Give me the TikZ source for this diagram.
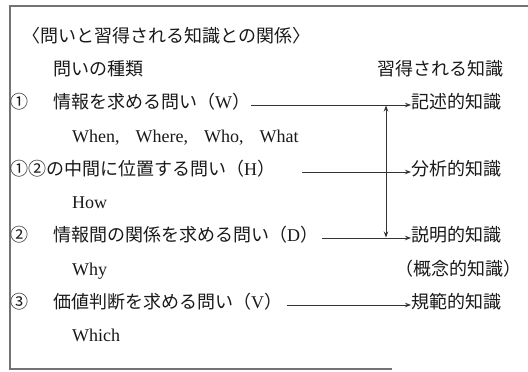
\documentclass[tikz,border=0pt]{standalone}
\usepackage{fontspec}
\setmainfont{Liberation Serif}
\newfontfamily\jp{Noto Sans CJK JP}
\usetikzlibrary{arrows.meta}
\begin{document}
\begin{tikzpicture}[x=1pt,y=-1pt,
  txt/.style={anchor=west,inner sep=0pt,text height=0.83em,text depth=0.07em,
    font=\fontsize{18}{18}\selectfont\jp,text=black!90},
  lat/.style={txt,font=\fontsize{18}{18}\selectfont\rmfamily},
  conn/.style={draw=black!80,line width=0.9pt,-{Stealth[length=6pt,width=4.5pt]}},
  both/.style={draw=black!80,line width=0.9pt,{Stealth[length=6pt,width=4.5pt]}-{Stealth[length=6pt,width=4.5pt]}},
  frame/.style={draw=black!55,line width=1.5pt}]
\useasboundingbox (0,0) rectangle (528,372);
\draw[frame] (528,6) -- (10,6) -- (10,369) -- (392,369);
% headings
\node[txt] (title) at (22,39) {〈問いと習得される知識との関係〉};
\node[txt] (hq) at (53,72) {問いの種類};
\node[txt] (hk) at (377,72) {習得される知識};
% row 1
\node[txt] (n1) at (10,105) {①};
\node[txt] (q1) at (53,105) {情報を求める問い（{\rmfamily W}）};
\node[txt] (k1) at (411,105) {記述的知識};
\node[lat] (e1) at (72,139) {When,\hspace{16pt}Where,\hspace{16pt}Who,\hspace{16pt}What};
% row H
\node[txt] (qh) at (10,172) {①②の中間に位置する問い（{\rmfamily H}）};
\node[txt] (kh) at (411,172) {分析的知識};
\node[lat] (eh) at (72,205) {How};
% row 2
\node[txt] (n2) at (10,238) {②};
\node[txt] (q2) at (53,238) {情報間の関係を求める問い（{\rmfamily D}）};
\node[txt] (k2) at (411,238) {説明的知識};
\node[lat] (e2) at (72,272) {Why};
\node[txt] (k2b) at (395,272) {（概念的知識）};
% row 3
\node[txt] (n3) at (10,305) {③};
\node[txt] (q3) at (53,305) {価値判断を求める問い（{\rmfamily V}）};
\node[txt] (k3) at (411,305) {規範的知識};
\node[lat] (e3) at (72,338) {Which};
% connectors
\draw[conn] ([xshift=1pt]q1.east) -- (k1.west);
\draw[conn] ([xshift=27pt]qh.east) -- (kh.west);
\draw[conn] ([xshift=4pt]q2.east) -- (k2.west);
\draw[conn] ([xshift=5pt]q3.east) -- (k3.west);
\coordinate (vt) at (386,105.5);
\coordinate (vb) at (386,237.5);
\draw[both] (vt) -- (vb);
\end{tikzpicture}
\end{document}
